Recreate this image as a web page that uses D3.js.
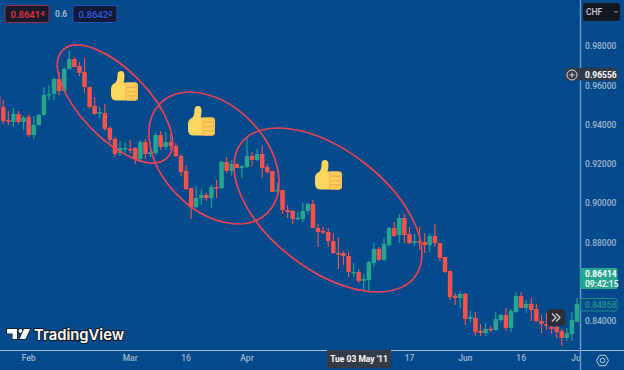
<!DOCTYPE html>
<html>
<head>
<meta charset="utf-8">
<script src="https://cdnjs.cloudflare.com/ajax/libs/d3/7.8.5/d3.min.js"></script>
<style>
  html, body { margin: 0; padding: 0; background: #024a8c; overflow: hidden; }
  text { font-family: Roboto, sans-serif; }
</style>
</head>
<body>
<div id="chart"></div>
<script>
// chart data, one value per trading day starting Mon 24 Jan 2011
var opens = [.9546,.9490,.9423,.9413,.9454,.9413,.9439,.9347,.9398,.9449,.9551,.9556,.9632,.9571,.9683,.9734,.9698,.9668,.9591,.9495,
  .9459,.9459,.9383,.9327,.9255,.9276,.9276,.9281,.9225,.9311,.9250,.9255,.9347,.9286,.9311,.9291,.9240,.9164,.9077,.8980,
  .9026,.9042,.9026,.9082,.9077,.9210,.9164,.9199,.9179,.9184,.9240,.9220,.9250,.9184,.9164,.9062,.9067,.8965,.8960,.8919,
  .8919,.8960,.8996,.8874,.8858,.8853,.8807,.8746,.8746,.8731,.8645,.8650,.8604,.8609,.8695,.8767,.8711,.8787,.8874,.8838,
  .8925,.8843,.8797,.8807,.8802,.8787,.8833,.8797,.8726,.8655,.8528,.8517,.8538,.8410,.8415,.8349,.8339,.8360,.8354,.8405,
  .8431,.8365,.8446,.8528,.8466,.8487,.8461,.8400,.8385,.8370,.8370,.8349,.8314,.8334,.8395];
var highs = [.9586,.9525,.9469,.9484,.9469,.9444,.9449,.9444,.9454,.9591,.9601,.9642,.9668,.9693,.9775,.9744,.9719,.9739,.9591,.9540,
  .9490,.9505,.9393,.9337,.9316,.9306,.9322,.9286,.9322,.9327,.9271,.9357,.9367,.9362,.9357,.9306,.9250,.9194,.9077,.9087,
  .9072,.9052,.9092,.9118,.9215,.9235,.9220,.9204,.9194,.9332,.9260,.9276,.9291,.9199,.9164,.9103,.9067,.8991,.8965,.8955,
  .9001,.9001,.9016,.8894,.8879,.8874,.8848,.8828,.8757,.8751,.8695,.8665,.8639,.8706,.8797,.8777,.8823,.8879,.8904,.8945,
  .8945,.8879,.8843,.8879,.8848,.8848,.8894,.8797,.8726,.8655,.8543,.8553,.8543,.8451,.8446,.8385,.8390,.8375,.8446,.8436,
  .8466,.8461,.8548,.8548,.8507,.8517,.8487,.8431,.8441,.8395,.8395,.8360,.8365,.8446,.8517];
var lows = [.9474,.9403,.9398,.9388,.9403,.9372,.9337,.9327,.9393,.9444,.9525,.9525,.9551,.9571,.9683,.9693,.9647,.9561,.9479,.9449,
  .9434,.9367,.9306,.9235,.9240,.9255,.9255,.9199,.9220,.9225,.9235,.9245,.9271,.9271,.9271,.9235,.9138,.9067,.8919,.8975,
  .8991,.9011,.8975,.9026,.9072,.9154,.9138,.9179,.9128,.9179,.9189,.9215,.9128,.9148,.9057,.9047,.8945,.8925,.8894,.8914,
  .8904,.8945,.8874,.8777,.8843,.8777,.8741,.8665,.8685,.8624,.8624,.8594,.8548,.8548,.8675,.8706,.8706,.8777,.8828,.8797,
  .8797,.8792,.8782,.8762,.8746,.8751,.8777,.8706,.8645,.8507,.8482,.8466,.8380,.8395,.8329,.8324,.8324,.8344,.8349,.8395,
  .8349,.8344,.8441,.8466,.8441,.8400,.8395,.8339,.8354,.8334,.8314,.8273,.8298,.8298,.8395];
var closes = [.9490,.9418,.9418,.9454,.9413,.9434,.9347,.9398,.9449,.9551,.9556,.9632,.9571,.9683,.9734,.9693,.9663,.9591,.9490,.9454,
  .9464,.9378,.9322,.9250,.9281,.9281,.9271,.9225,.9311,.9250,.9260,.9347,.9286,.9311,.9291,.9240,.9159,.9072,.8980,.9026,
  .9042,.9026,.9082,.9077,.9210,.9164,.9199,.9179,.9189,.9240,.9220,.9250,.9179,.9159,.9057,.9067,.8965,.8955,.8919,.8925,
  .8960,.8996,.8874,.8853,.8853,.8807,.8746,.8741,.8731,.8650,.8650,.8604,.8614,.8701,.8767,.8711,.8792,.8874,.8833,.8925,
  .8838,.8797,.8807,.8802,.8787,.8833,.8797,.8721,.8650,.8522,.8517,.8538,.8410,.8421,.8344,.8339,.8360,.8354,.8410,.8431,
  .8365,.8451,.8528,.8466,.8487,.8456,.8400,.8385,.8375,.8360,.8344,.8314,.8339,.8405,.8487];

var priceTicks = [0.98, 0.96, 0.94, 0.92, 0.90, 0.88, 0.84];
var timeTicks = [new Date(2011,1,1), new Date(2011,2,1), new Date(2011,2,16), new Date(2011,3,1), new Date(2011,4,17), new Date(2011,5,1), new Date(2011,5,16), new Date(2011,6,1)];
var timeLabels = ["Feb", "Mar", "16", "Apr", "17", "Jun", "16", "Jul"];

// weekdays only, same as the chart's time axis
var dates = d3.timeDay.range(new Date(2011,0,24), new Date(2011,6,2)).filter(d => d.getDay() > 0 && d.getDay() < 6);

var width = 624, height = 370,
    paneRight = 580, paneBottom = 350;

var red = "#f9524c", green = "#26a68e", bg = "#024a8c";

var svg = d3.select("#chart").append("svg")
    .attr("width", width)
    .attr("height", height)
    .style("display", "block");

svg.append("rect").attr("width", width).attr("height", height).attr("fill", bg);

var defs = svg.append("defs");
defs.append("clipPath").attr("id", "pane").append("rect")
    .attr("width", paneRight).attr("height", paneBottom);
defs.append("clipPath").attr("id", "timepane").append("rect")
    .attr("y", paneBottom).attr("width", paneRight).attr("height", height - paneBottom);

// scales
var x = d3.scaleBand().domain(dates).range([-4.34, 579.54]);
var y = d3.scaleLinear().domain([0.84, 0.98]).range([321, 46]);

var bodyW = x.bandwidth() * 0.88;

// candles
var candles = svg.append("g").attr("clip-path", "url(#pane)")
  .selectAll("g.candle")
  .data(dates)
  .enter()
  .append("g")
  .attr("class", "candle")
  .attr("fill", (d, i) => closes[i] >= opens[i] ? green : red)
  .attr("stroke", (d, i) => closes[i] >= opens[i] ? green : red);

candles.append("line")
  .attr("x1", d => x(d) + x.bandwidth() / 2)
  .attr("x2", d => x(d) + x.bandwidth() / 2)
  .attr("y1", (d, i) => y(highs[i]))
  .attr("y2", (d, i) => y(lows[i]))
  .attr("stroke-width", 1.1);

candles.append("rect")
  .attr("x", d => x(d) + x.bandwidth() / 2 - bodyW / 2)
  .attr("width", bodyW)
  .attr("y", (d, i) => y(Math.max(opens[i], closes[i])))
  .attr("height", (d, i) => Math.max(1.5, Math.abs(y(opens[i]) - y(closes[i]))))
  .attr("stroke", "none");

// hand drawn ellipses
var ellipses = [
  {cx: 115, cy: 104, rx: 75, ry: 34, angle: 46},
  {cx: 214, cy: 158, rx: 76.6, ry: 52, angle: 46},
  {cx: 328, cy: 210, rx: 109.6, ry: 59.5, angle: 37.8}
];
svg.selectAll("ellipse")
  .data(ellipses)
  .enter()
  .append("ellipse")
  .attr("cx", d => d.cx)
  .attr("cy", d => d.cy)
  .attr("rx", d => d.rx)
  .attr("ry", d => d.ry)
  .attr("transform", d => "rotate(" + d.angle + " " + d.cx + " " + d.cy + ")")
  .attr("fill", "none")
  .attr("stroke", "#ea4255")
  .attr("stroke-width", 1.7);

// thumbs up
var thumbs = [[111, 71], [188, 106], [315, 160]];
var thumb = svg.selectAll("g.thumb")
  .data(thumbs)
  .enter()
  .append("g")
  .attr("class", "thumb")
  .attr("transform", d => "translate(" + d[0] + "," + d[1] + ")");

thumb.append("path")
  .attr("d", "M0 18 Q0 13.5 4 12 Q6.5 10 6.5 4 Q6.5 0 10 0 Q13.5 0 13.5 5 Q13.5 9 12.5 11.5 L23 11.5 Q27 11.5 27 15 L27 26 Q27 29.5 23 29.5 L6 29.5 Q0 29.5 0 24 Z")
  .attr("fill", "#ffd75e");

[11.8, 16.3, 20.8, 25].forEach(function(fy) {
  thumb.append("rect")
    .attr("x", 14.5)
    .attr("y", fy)
    .attr("width", 12)
    .attr("height", 4.2)
    .attr("rx", 2)
    .attr("fill", "#ffd05a")
    .attr("stroke", "#f4a850")
    .attr("stroke-width", 0.9);
});

// time axis
svg.append("line")
  .attr("x1", 0).attr("x2", width)
  .attr("y1", paneBottom + 0.5).attr("y2", paneBottom + 0.5)
  .attr("stroke", "#a9bdd6");

var xAxis = svg.append("g")
  .attr("clip-path", "url(#timepane)")
  .append("g")
  .attr("transform", "translate(0," + paneBottom + ")")
  .call(d3.axisBottom(x)
    .tickValues(timeTicks)
    .tickSize(0)
    .tickPadding(5)
    .tickFormat((d, i) => timeLabels[i]));
xAxis.select(".domain").remove();
xAxis.selectAll("text")
  .style("font-family", "Roboto, sans-serif")
  .style("font-size", "8.5px")
  .style("font-weight", "500")
  .attr("fill", "#a3b8d2");

// price axis
svg.append("line")
  .attr("x1", paneRight + 0.5).attr("x2", paneRight + 0.5)
  .attr("y1", 0).attr("y2", height)
  .attr("stroke", "#6d95c6")
  .attr("stroke-width", 1.5);

var yAxis = svg.append("g")
  .attr("transform", "translate(" + paneRight + ",0)")
  .call(d3.axisRight(y)
    .tickValues(priceTicks)
    .tickSize(0)
    .tickPadding(5)
    .tickFormat(d3.format(".5f")));
yAxis.select(".domain").remove();
yAxis.selectAll("text")
  .style("font-family", "Roboto, sans-serif")
  .style("font-size", "8.5px")
  .style("font-weight", "500")
  .attr("fill", "#a3b8d2");

// helper for the small labels
function label(txt, px, py, size, weight, color, anchor) {
  return svg.append("text")
    .attr("x", px).attr("y", py)
    .attr("text-anchor", anchor || "start")
    .style("font-size", size + "px")
    .style("font-weight", weight)
    .attr("fill", color)
    .text(txt);
}

// bid / ask boxes top left
svg.append("rect").attr("x", 5).attr("y", 5.5).attr("width", 44).attr("height", 17).attr("rx", 2.5)
  .attr("fill", "#181a2b").attr("stroke", "#93304f");
var bid = label("0.8641", 10.5, 17.5, 9.5, 500, "#ee3040");
bid.append("tspan").attr("dy", -1.5).style("font-size", "7.5px").text("4");

label("0.6", 55, 17, 8.5, 700, "#a3b8d2");

svg.append("rect").attr("x", 73).attr("y", 5.5).attr("width", 44).attr("height", 17).attr("rx", 2.5)
  .attr("fill", "#121a38").attr("stroke", "#2153b5");
var ask = label("0.8642", 78.5, 17.5, 9.5, 500, "#2f5be0");
ask.append("tspan").attr("dy", -1.5).style("font-size", "7.5px").text("0");

// currency button
svg.append("rect").attr("x", 583).attr("y", 3).attr("width", 37).attr("height", 18).attr("rx", 2.5).attr("fill", "#131722");
label("CHF", 586, 15, 8.5, 500, "#c8ccd6");
svg.append("path").attr("d", "M614.5 11 L616 12.5 L617.5 11").attr("fill", "none").attr("stroke", "#c8ccd6");

// crosshair price label
svg.append("rect").attr("x", 565).attr("y", 68).attr("width", 52).attr("height", 12.5).attr("fill", "#353a47");
svg.append("circle").attr("cx", 572).attr("cy", 75).attr("r", 5).attr("fill", "none").attr("stroke", "#d6d9df");
svg.append("path").attr("d", "M569.5 75 H574.5 M572 72.5 V77.5").attr("stroke", "#d6d9df");
label("0.96556", 585, 78, 8.5, 700, "#ffffff");

// last price labels
svg.append("rect").attr("x", 580).attr("y", 268).attr("width", 37.5).attr("height", 21).attr("rx", 1.5).attr("fill", "#26a68e");
label("0.86414", 585, 277, 8.5, 700, "#ffffff");
label("09:42:15", 585, 287, 8.5, 500, "#ffffff");

svg.append("rect").attr("x", 580.5).attr("y", 298.5).attr("width", 36.5).attr("height", 12.5).attr("rx", 1.5)
  .attr("fill", "none").attr("stroke", "#1f8a8a");
label("0.84868", 585, 308, 8.5, 500, "#22988f");

// scroll button
svg.append("rect").attr("x", 547).attr("y", 309).attr("width", 18).attr("height", 17).attr("rx", 3).attr("fill", "#2a2e39");
svg.append("path").attr("d", "M552 313.5 L556 317.5 L552 321.5 M556 313.5 L560 317.5 L556 321.5")
  .attr("fill", "none").attr("stroke", "#d6d9df").attr("stroke-width", 1.2);

// crosshair date label
svg.append("rect").attr("x", 327).attr("y", 350).attr("width", 64).attr("height", 18).attr("fill", "#353a47");
label("Tue 03 May '11", 359, 362, 8.5, 700, "#ffffff", "middle");

// settings icon
svg.append("path")
  .attr("d", d3.line()(d3.range(6).map(i => [602.5 + 6 * Math.cos(i * Math.PI / 3), 360.5 + 6 * Math.sin(i * Math.PI / 3)])) + "Z")
  .attr("fill", "none").attr("stroke", "#c9d3e0");
svg.append("circle").attr("cx", 602.5).attr("cy", 360.5).attr("r", 2.3).attr("fill", "none").attr("stroke", "#c9d3e0");

// TradingView logo
var logo = svg.append("g")
  .attr("fill", "#ffffff")
  .attr("stroke", "#131722")
  .attr("stroke-width", 1.5)
  .style("paint-order", "stroke");
logo.append("path").attr("d", "M7 329 H17 V339 H12.5 V333.5 H7 Z");
logo.append("circle").attr("cx", 20.5).attr("cy", 331).attr("r", 2);
logo.append("path").attr("d", "M24 329 H30 L25.5 339 H19.5 Z");
logo.append("text")
  .attr("x", 34).attr("y", 339.5)
  .style("font-family", "Inter, Roboto, sans-serif")
  .style("font-size", "14.8px")
  .style("font-weight", "600")
  .attr("stroke-width", 2)
  .text("TradingView");
</script>
</body>
</html>
